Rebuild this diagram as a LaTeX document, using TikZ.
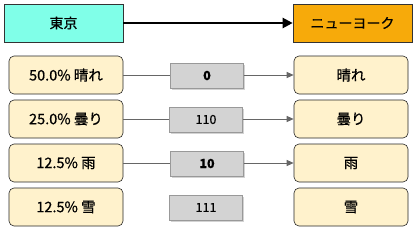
\documentclass[tikz,border=0pt]{standalone}
\usepackage{fontspec}
\setmainfont{Noto Sans CJK JP}[FakeBold=0.6]
\usetikzlibrary{shadows,arrows.meta}
\definecolor{cityA}{HTML}{80FFE8}
\definecolor{cityB}{HTML}{F7AA0A}
\definecolor{cream}{HTML}{FFF2CC}
\definecolor{codegray}{HTML}{D3D3D3}
\definecolor{linegray}{HTML}{666666}
\tikzset{
  city/.style={draw=black!80, line width=0.6pt, minimum width=119pt, minimum height=38pt, inner sep=0pt, font=\fontsize{14pt}{16pt}\selectfont},
  probbox/.style={draw=black!85, line width=0.6pt, fill=cream, rounded corners=5pt, minimum width=114pt, minimum height=38pt, inner sep=0pt, font=\fontsize{14.5pt}{16pt}\selectfont},
  codebox/.style={draw=black!40, line width=0.4pt, fill=codegray, minimum width=73pt, minimum height=25pt, inner sep=0pt, font=\fontsize{12.5pt}{14pt}\selectfont, drop shadow={shadow xshift=1pt, shadow yshift=-1.5pt, opacity=0.35}},
  link/.style={draw=linegray, line width=1pt},
  linkarrow/.style={link, -{Triangle[length=7pt,width=6pt]}},
}
\begin{document}
\begin{tikzpicture}[x=1pt,y=-1pt]
\useasboundingbox (0,0) rectangle (418,233);
\node[city, fill=cityA] (tokyo) at (63.5,23) {東京};
\node[city, fill=cityB] (ny) at (352.5,23) {ニューヨーク};
\draw[line width=2.2pt, -{Triangle[length=10pt,width=10pt]}] (tokyo) -- (ny);

\foreach \i/\y/\p/\w/\c/\b in {1/75/50.0\%/晴れ/0/1, 2/119/25.0\%/曇り/110/0, 3/163/12.5\%/雨/10/1, 4/207/12.5\%/雪/111/0}{
  \node[probbox] (L\i) at (66,\y) {\p\ \w};
  \node[probbox] (R\i) at (351,\y) {\w};
  \ifnum\b=1
    \node[codebox] (C\i) at (207,\y+0.5) {\textbf{\c}};
  \else
    \node[codebox] (C\i) at (206,\y+0.5) {\c};
  \fi
}
\foreach \i in {1,2,3}{
  \draw[link] (L\i.east) -- (L\i.east -| C\i.west);
  \draw[linkarrow] (C\i.east |- R\i.west) -- (R\i.west);
}
\end{tikzpicture}
\end{document}
